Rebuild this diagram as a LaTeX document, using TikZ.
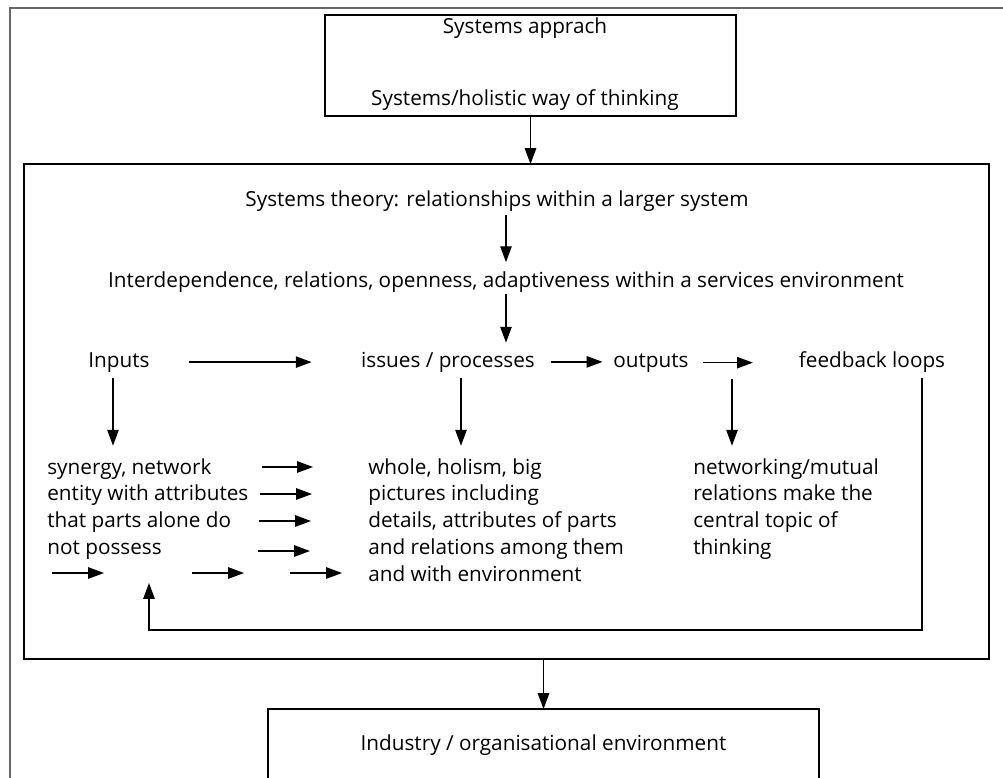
\documentclass[tikz,border=0pt]{standalone}
\usepackage{fontspec}
\setmainfont{Open Sans}
\usetikzlibrary{arrows.meta}

\begin{document}
\begin{tikzpicture}[x=0.02cm, y=-0.02cm,
  font=\fontsize{11.8pt}{15.3pt}\selectfont,
  frame/.style={rectangle, draw=black, line width=0.8pt, inner sep=0pt, outer sep=0pt},
  txt/.style={inner sep=0pt, anchor=base},
  para/.style={inner sep=0pt, anchor=north west, align=left},
  arr/.style={-{Triangle[length=9pt,width=6.5pt]}, line width=0.7pt}]
\useasboundingbox (0,0) rectangle (1003,777);
% outer frame, runs off the page
\draw [black!60, line width=1.2pt] (10,800) -- (10,8) -- (1010,8);

% boxes
\node [frame, minimum width=8.22cm, minimum height=2.02cm](Approach) at (530.5,65.5){};
\node [frame, minimum width=19.3cm, minimum height=9.9cm](Theory) at (506.5,411.5){};
\node [frame, minimum width=11.02cm, minimum height=1.82cm](Industry) at (543.5,754.5){};

% texts
\node [txt](A1) at (525,34){Systems apprach};
\node [txt](A2) at (525,106){Systems/holistic way of thinking};
\node [txt](T1) at (497,206){Systems theory: relationships within a larger system};
\node [txt](T2) at (506,287){Interdependence, relations, openness, adaptiveness within a services environment};
\node [txt](In) at (119,367){Inputs};
\node [txt](Is) at (448,367){issues / processes};
\node [txt](Out) at (651,367){outputs};
\node [txt](Fb) at (872,367){feedback loops};
\node [para](Syn) at (47,458){synergy, network\\entity with attributes\\that parts alone do\\not possess};
\node [para](Whole) at (368,458){whole, holism, big\\pictures including\\details, attributes of parts\\and relations among them\\and with environment};
\node [para](Net) at (693,458){networking/mutual\\relations make the\\central topic of\\thinking};
\node [txt](Env) at (543.5,750){Industry / organisational environment};

% free arrow ends
\coordinate (d1) at (113,378);
\coordinate (d2) at (461,378);
\coordinate (d3) at (732,379);
\coordinate (fb) at (922,378);
\coordinate (fbin) at (149,583);
\coordinate (s1) at (262,467); \coordinate (e1) at (313,467);
\coordinate (s2) at (260,494); \coordinate (e2) at (312,494);
\coordinate (s3) at (259,521); \coordinate (e3) at (311,521);
\coordinate (s4) at (258,551); \coordinate (e4) at (310,551);
\coordinate (s5) at (52,573); \coordinate (e5) at (104,573);
\coordinate (s6) at (192,573); \coordinate (e6) at (244,573);
\coordinate (s7) at (290,573); \coordinate (e7) at (342,573);

% arrows
\draw [arr](Approach.south) -- (Approach.south |- Theory.north);
\draw [arr, shorten <=2pt, shorten >=5pt](T1.south -| T2.north) -- (T2.north);
\draw [arr, shorten <=1pt, shorten >=5pt](T2.south) -- (T2.south |- Is.north);
\draw [arr, shorten <=22pt, shorten >=28pt](In.east) -- (In.east -| Is.west);
\draw [arr, shorten <=9pt, shorten >=6pt](Is.east) -- (Is.east -| Out.west);
\draw [arr, shorten <=8pt, shorten >=26pt](Out.east) -- (Out.east -| Fb.west);
\draw [arr, shorten >=7pt](d1) -- (d1 |- Syn.north);
\draw [arr, shorten >=7pt](d2) -- (d2 |- Whole.north);
\draw [arr, shorten >=7pt](d3) -- (d3 |- Net.north);
\draw [arr](s1) -- (e1);
\draw [arr](s2) -- (e2);
\draw [arr](s3) -- (e3);
\draw [arr](s4) -- (e4);
\draw [arr](s5) -- (e5);
\draw [arr](s6) -- (e6);
\draw [arr](s7) -- (e7);
\draw [arr](fb) -- ++(0,252) -| (fbin);
\draw [arr](Industry.north |- Theory.south) -- (Industry.north);
\end{tikzpicture}
\end{document}
